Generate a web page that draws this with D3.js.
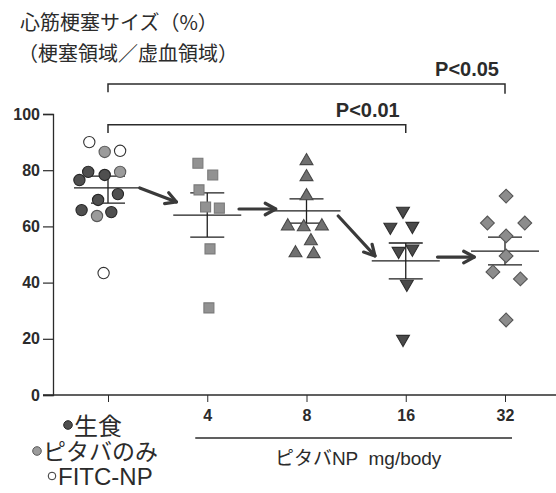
<!DOCTYPE html>
<html>
<head>
<meta charset="utf-8">
<script src="https://cdn.jsdelivr.net/npm/d3@7"></script>
<style>
  html, body { margin: 0; padding: 0; background: #fff; }
  svg { display: block; }
</style>
</head>
<body>
<svg id="chart" width="556" height="493"></svg>
<script>
// --- datos ---
const groups = ['ctrl', '4', '8', '16', '32'];
const tickLabels = ['', '4', '8', '16', '32'];

// grupo 1 (control): valor, tipo (dark = 生食, gray = ピタバのみ, open = FITC-NP), jitter
const ctrlVals   = [90.0, 86.5, 86.9, 76.5, 79.4, 78.3, 79.4, 69.4, 71.5, 65.8, 63.7, 65.1, 43.4];
const ctrlType   = ['open', 'gray', 'open', 'dark', 'dark', 'dark', 'gray', 'dark', 'dark', 'dark', 'gray', 'dark', 'open'];
const ctrlJitter = [-1.7, -0.3, 1.1, -2.6, -1.8, -0.3, 1.1, -0.9, 0.9, -2.4, -1.0, 0.3, -0.4];

const np4Vals    = [82.5, 78.3, 73.0, 66.9, 66.5, 52.0, 31.0];
const np4Jitter  = [-0.85, 0.5, -0.75, -0.15, 1.1, 0.25, 0.15];
const np8Vals    = [83.3, 77.6, 70.8, 60.1, 59.8, 60.1, 54.8, 50.5, 50.2];
const np8Jitter  = [0.0, 0.0, 0.0, -1.7, -0.25, 1.4, 0.4, -1.0, 0.65];
const np16Vals   = [65.5, 59.8, 60.1, 51.2, 52.0, 39.5, 19.9];
const np16Jitter = [-0.25, -1.4, 0.6, -0.65, 0.6, 0.1, -0.25];
const np32Vals   = [70.8, 61.2, 61.2, 56.6, 49.5, 43.8, 41.3, 26.7];
const np32Jitter = [0.1, -1.6, 1.8, 0.1, 0.1, -1.1, 1.4, 0.1];

// media ± SEM
const means = [73.7, 64.0, 65.5, 47.7, 51.2];
const semHi = [77.9, 71.9, 69.8, 54.1, 56.2];
const semLo = [68.3, 56.2, 61.2, 41.3, 46.3];

// flechas entre grupos (valor al inicio / al final)
const arrowFrom = [73.7, 66.2, 63.7, 49.1];
const arrowTo   = [68.7, 66.2, 49.5, 49.1];

// corchetes de significación
const brackets = [
  { label: 'P<0.05', from: 0, to: 4, y: 110.7, legL: 3, legR: 3.5 },
  { label: 'P<0.01', from: 0, to: 3, y: 96.2, legL: 3, legR: 3 },
];

const yTicks = [0, 20, 40, 60, 80, 100];

// --- dibujo ---
const svg = d3.select('#chart');
const SANS = '"Liberation Sans", Arial, "Noto Sans CJK JP", sans-serif';
const JP = '"Noto Sans CJK JP", "Liberation Sans", sans-serif';
const INK = '#2b2b2b';

const y = d3.scaleLinear().domain([0, 100]).range([395, 114]);
const x = d3.scalePoint().domain(groups).range([108, 505]);
const step = x.step();
const jx = d3.scaleLinear().domain([-1, 1]).range([-11, 11]);

// títulos
svg.append('text').attr('x', 20).attr('y', 30)
  .attr('font-family', JP).style('font-size', '20px').attr('fill', INK)
  .text('心筋梗塞サイズ（%）');
svg.append('text').attr('x', 18).attr('y', 61)
  .attr('font-family', JP).style('font-size', '20px').attr('fill', INK)
  .text('（梗塞領域／虚血領域）');

// eje Y
const gy = svg.append('g').attr('transform', 'translate(53,0)')
  .call(d3.axisLeft(y).tickValues(yTicks).tickSize(10).tickPadding(3));
gy.select('.domain').attr('stroke', INK).attr('stroke-width', 1.3);
gy.selectAll('.tick line').attr('stroke', INK).attr('stroke-width', 1.2);
gy.selectAll('.tick text').attr('font-family', SANS).attr('font-weight', 700)
  .style('font-size', '16px').attr('fill', INK);

// eje X
svg.append('line').attr('x1', 43).attr('x2', 556).attr('y1', y(0)).attr('y2', y(0))
  .attr('stroke', INK).attr('stroke-width', 1.3);
const gx = svg.append('g').attr('transform', `translate(0,${y(0)})`)
  .call(d3.axisBottom(x).tickFormat((d, i) => tickLabels[i]).tickSize(7).tickPadding(8));
gx.select('.domain').remove();
gx.selectAll('.tick line').attr('stroke', INK).attr('stroke-width', 1);
gx.selectAll('.tick text').attr('font-family', SANS).attr('font-weight', 700)
  .style('font-size', '16px').attr('fill', INK);

// subrayado + rótulo de dosis
svg.append('line').attr('x1', x('4') - 12).attr('x2', x('32') + 7)
  .attr('y1', 438).attr('y2', 438).attr('stroke', INK).attr('stroke-width', 1.5);
svg.append('text').attr('x', (x('4') + x('32')) / 2 + 2).attr('y', 465)
  .attr('text-anchor', 'middle').attr('font-family', SANS)
  .style('font-size', '19px').attr('fill', INK)
  .attr('xml:space', 'preserve').text('ピタバNP  mg/body');

// leyenda del control
const legend = [
  { type: 'dark', label: '生食', cx: 68, cy: 425, by: 435, fs: 24 },
  { type: 'gray', label: 'ピタバのみ', cx: 37, cy: 451, by: 460, fs: 23 },
  { type: 'open', label: 'FITC-NP', cx: 52, cy: 476, by: 485, fs: 24 },
];

// estilos de marcadores
const markStyle = {
  dark: { fill: '#4f4f4f', stroke: '#262626' },
  gray: { fill: '#9b9b9b', stroke: '#5a5a5a' },
  open: { fill: '#ffffff', stroke: '#333333' },
  square: { fill: '#929292', stroke: '#7a7a7a' },
  tri: { fill: '#707070', stroke: '#474747' },
  inv: { fill: '#4a4a4a', stroke: '#2e2e2e' },
  dia: { fill: '#8c8c8c', stroke: '#555555' },
};

legend.forEach(l => {
  const st = markStyle[l.type];
  svg.append('circle').attr('cx', l.cx).attr('cy', l.cy).attr('r', l.type === 'open' ? 3.8 : 4.3)
    .attr('fill', st.fill).attr('stroke', st.stroke).attr('stroke-width', 1);
  svg.append('text').attr('x', l.cx + 6).attr('y', l.by)
    .attr('font-family', SANS).style('font-size', l.fs + 'px').attr('fill', INK)
    .text(l.label);
});

// error bars (media ± SEM)
const gE = svg.append('g').attr('stroke', '#1e1e1e').attr('stroke-width', 1.3);
groups.forEach((g, i) => {
  const cx = x(g);
  gE.append('line').attr('x1', cx).attr('x2', cx).attr('y1', y(semHi[i])).attr('y2', y(semLo[i]));
  gE.append('line').attr('x1', cx - 17).attr('x2', cx + 17).attr('y1', y(semHi[i])).attr('y2', y(semHi[i]));
  gE.append('line').attr('x1', cx - 17).attr('x2', cx + 17).attr('y1', y(semLo[i])).attr('y2', y(semLo[i]));
  gE.append('line').attr('x1', cx - 34).attr('x2', cx + 34).attr('y1', y(means[i])).attr('y2', y(means[i]));
});

// puntos
function drawPoints(g, vals, jit, shape, size, styleOf, rot) {
  const sym = d3.symbol().type(shape).size(size);
  svg.append('g').selectAll('path').data(vals).join('path')
    .attr('d', sym)
    .attr('transform', (v, i) => `translate(${x(g) + jx(jit[i])},${y(v)})` + (rot ? ` rotate(${rot})` : ''))
    .attr('fill', (v, i) => markStyle[styleOf(i)].fill)
    .attr('stroke', (v, i) => markStyle[styleOf(i)].stroke)
    .attr('stroke-width', 1.1);
}
drawPoints('ctrl', ctrlVals, ctrlJitter, d3.symbolCircle, 100, i => ctrlType[i]);
drawPoints('4', np4Vals, np4Jitter, d3.symbolSquare, 100, () => 'square');
drawPoints('8', np8Vals, np8Jitter, d3.symbolTriangle, 72, () => 'tri');
drawPoints('16', np16Vals, np16Jitter, d3.symbolTriangle, 72, () => 'inv', 180);
drawPoints('32', np32Vals, np32Jitter, d3.symbolSquare, 95, () => 'dia', 45);

// flechas
const gA = svg.append('g').attr('stroke', '#3a3a3a').attr('stroke-width', 3.2)
  .attr('fill', 'none').attr('stroke-linecap', 'round').attr('stroke-linejoin', 'round');
arrowFrom.forEach((v, i) => {
  const x0 = x(groups[i]) + step * 0.32, x1 = x(groups[i + 1]) - step * 0.31;
  const y0 = y(v), y1 = y(arrowTo[i]);
  const ang = Math.atan2(y1 - y0, x1 - x0);
  const L = 12, a = 0.5;
  gA.append('line').attr('x1', x0).attr('y1', y0).attr('x2', x1).attr('y2', y1);
  gA.append('path').attr('d', d3.line()([
    [x1 - L * Math.cos(ang - a), y1 - L * Math.sin(ang - a)],
    [x1, y1],
    [x1 - L * Math.cos(ang + a), y1 - L * Math.sin(ang + a)],
  ]));
});

// corchetes de significación
brackets.forEach(b => {
  const xa = x(groups[b.from]), xb = x(groups[b.to]);
  svg.append('path')
    .attr('d', d3.line()([[xa, y(b.y - b.legL)], [xa, y(b.y)], [xb, y(b.y)], [xb, y(b.y - b.legR)]]))
    .attr('fill', 'none').attr('stroke', INK).attr('stroke-width', 1.5);
  svg.append('text').attr('x', xb - 6).attr('y', y(b.y) - 8)
    .attr('text-anchor', 'end').attr('font-family', SANS).attr('font-weight', 700)
    .style('font-size', '20px').attr('fill', INK).text(b.label);
});
</script>
</body>
</html>
